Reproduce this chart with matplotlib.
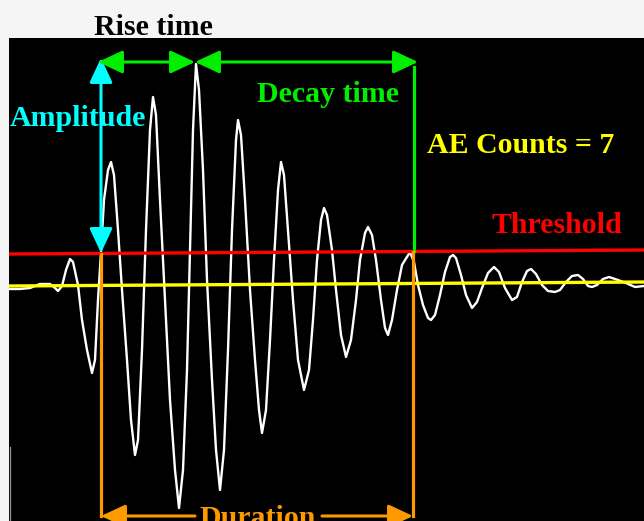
import matplotlib
matplotlib.use("Agg")
import matplotlib.pyplot as plt
from matplotlib.patches import FancyArrowPatch

# ---- waveform samples: (time, level) ----
wave_points = [
    (9, 289), (20, 289), (30, 288), (40, 284), (50, 284), (55, 288), (58, 291), (62, 286),
    (66, 270), (70, 259), (73, 262), (78, 285), (82, 320), (87, 350), (92, 373), (95, 360),
    (98, 300), (101, 252), (104, 200), (108, 170), (111, 162), (114, 175), (118, 230),
    (122, 290), (127, 360), (131, 420), (135, 455), (138, 440), (142, 350), (146, 230),
    (150, 130), (153, 97), (156, 115), (160, 200), (165, 300), (170, 400), (175, 470),
    (179, 508), (183, 470), (187, 370), (190, 250), (193, 130), (196, 64), (199, 90),
    (203, 170), (207, 280), (212, 380), (216, 450), (220, 490), (224, 450), (228, 350),
    (232, 230), (236, 140), (238, 120), (241, 135), (245, 200), (250, 290), (255, 360),
    (259, 410), (262, 433), (266, 410), (270, 340), (274, 260), (278, 190), (281, 162),
    (284, 175), (288, 230), (293, 300), (298, 360), (304, 390), (309, 370), (313, 320),
    (317, 260), (321, 220), (324, 208), (327, 215), (332, 250), (336, 290), (341, 335),
    (346, 357), (351, 340), (356, 300), (360, 260), (365, 233), (368, 227), (372, 235),
    (376, 260), (381, 300), (385, 328), (388, 335), (392, 320), (397, 290), (402, 265),
    (410, 252), (414, 262), (418, 285), (423, 305), (428, 318), (431, 320), (435, 315),
    (440, 295), (445, 272), (450, 257), (453, 255), (456, 258), (461, 275), (466, 295),
    (472, 308), (477, 302), (482, 288), (488, 273), (494, 267), (499, 272), (505, 288),
    (512, 300), (517, 297), (522, 282), (527, 271), (531, 269), (536, 274), (542, 285),
    (548, 291), (555, 292), (560, 290), (566, 282), (572, 276), (578, 275), (583, 279),
    (588, 286), (592, 287), (597, 285), (603, 279), (609, 277), (618, 280), (626, 283),
    (635, 287), (644, 286),
]
wave_x = [p[0] for p in wave_points]
wave_y = [p[1] for p in wave_points]

x_ends = [9, 644]
threshold_y = [254, 250]
baseline_y = [286, 282]

labels = {
    "rise": "Rise time",
    "amp": "Amplitude",
    "decay": "Decay time",
    "counts": "AE Counts = 7",
    "thr": "Threshold",
    "dur": "Duration",
}

W, H = 644, 521
fig = plt.figure(figsize=(W / 100, H / 100), dpi=100)
fig.patch.set_facecolor("#f5f5f5")
ax = fig.add_axes([9 / W, 0, (W - 9) / W, (H - 38) / H])
ax.set_facecolor("black")
ax.set_xlim(9, W)
ax.set_ylim(H, 38)
for s in ax.spines.values():
    s.set_visible(False)
ax.set_xticks([])
ax.set_yticks([])

font = dict(family="Liberation Serif", fontweight="bold", fontsize=21.5)

# small frame detail at bottom-left
ax.plot([10, 10], [447, H], color="#9a9a9a", lw=0.9, zorder=2, clip_on=False)

# waveform
ax.plot(wave_x, wave_y, color="white", lw=1.7, zorder=3)

# threshold & baseline
ax.plot(x_ends, threshold_y, color="#ff0000", lw=2.4, zorder=4)
ax.plot(x_ends, baseline_y, color="#ffff00", lw=2.4, zorder=4)


def arrow(p1, p2, color, style="<|-|>", hl=9, hw=5, lw=2.2):
    a = FancyArrowPatch(p1, p2, arrowstyle=f"{style},head_length={hl},head_width={hw}",
                        color=color, lw=lw, mutation_scale=1, shrinkA=0, shrinkB=0,
                        zorder=5, clip_on=False)
    ax.add_patch(a)


green = "#00ee00"
cyan = "#00ffff"
orange = "#ff9900"

# amplitude arrow
arrow((101, 253), (101, 58), cyan, hl=15, hw=7)
# rise time / decay time arrows
arrow((98, 62), (195, 62), green, hl=15, hw=7)
arrow((195, 62), (418, 62), green, hl=15, hw=7)
ax.plot([414, 414], [67, 251], color=green, lw=2.3, zorder=5)

# duration
ax.plot([101, 101], [254, 516], color=orange, lw=2.3, zorder=5)
ax.plot([413, 413], [252, 516], color=orange, lw=2.3, zorder=5)
arrow((195, 516), (101, 516), orange, style="-|>", hl=15, hw=7)
arrow((322, 516), (413, 516), orange, style="-|>", hl=15, hw=7)

# labels
ax.text(153, 35, labels["rise"], color="black", ha="center", va="baseline", clip_on=False, **font)
ax.text(78, 126, labels["amp"], color=cyan, ha="center", va="baseline", zorder=6, **font)
ax.text(328, 102, labels["decay"], color=green, ha="center", va="baseline", **font)
ax.text(521, 153, labels["counts"], color="#ffff00", ha="center", va="baseline", **font)
ax.text(557, 233, labels["thr"], color="#ff0000", ha="center", va="baseline", **font)
ax.text(258, 526, labels["dur"], color=orange, ha="center", va="baseline", **font)

fig.savefig("out.png", dpi=100, facecolor=fig.get_facecolor())
